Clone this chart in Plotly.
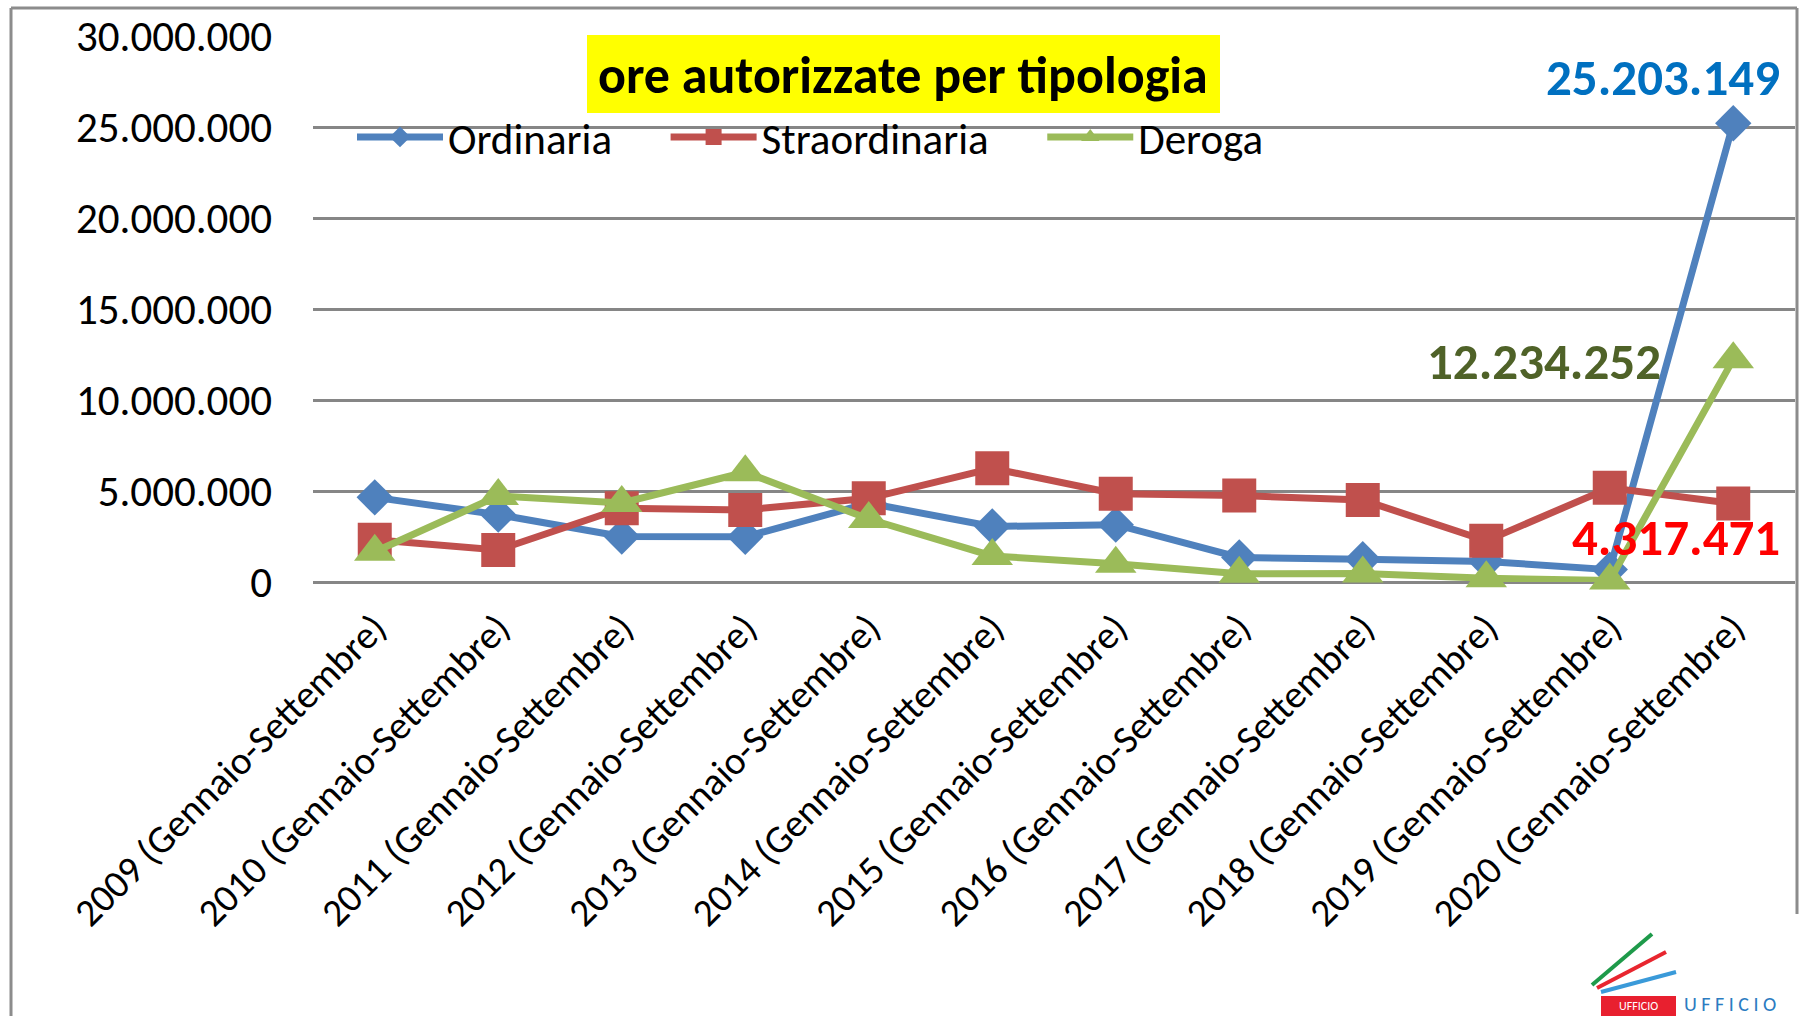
import plotly.graph_objects as go

categories = [f"{y} (Gennaio-Settembre)" for y in range(2009, 2021)]
ordinaria = [4650000, 3700000, 2500000, 2480000, 4330000, 3050000, 3150000, 1350000, 1250000, 1130000, 680000, 25203149]
straordinaria = [2320000, 1760000, 4050000, 3960000, 4600000, 6250000, 4850000, 4750000, 4500000, 2260000, 5180000, 4317471]
deroga = [1660000, 4730000, 4340000, 6030000, 3460000, 1430000, 1000000, 450000, 470000, 200000, 80000, 12234252]
series_names = ["Ordinaria", "Straordinaria", "Deroga"]
title_text = "ore autorizzate per tipologia"
y_ticks = [0, 5000000, 10000000, 15000000, 20000000, 25000000, 30000000]

W, H = 1804, 1016
L, R, T, B = 313, 1795, 36, 582  # plot area in pixels
pw, ph = R - L, B - T


def px(x):
    return (x - L) / pw


def py(y):
    return (B - y) / ph


def fmt(v):
    return f"{v:,}".replace(",", ".")


FONT = "Calibri, Carlito, Lato, sans-serif"
PAD = "\u00a0" * 5  # spacing after legend entries

fig = go.Figure()
styles = [
    (ordinaria, "#4F81BD", "diamond", 28),
    (straordinaria, "#C0504D", "square", 34),
    (deroga, "#9BBB59", "triangle-up", 36),
]
for i, (name, (vals, col, sym, sz)) in enumerate(zip(series_names, styles)):
    fig.add_trace(go.Scatter(
        x=categories, y=vals, name=name + (PAD if i < 2 else ""), mode="lines+markers",
        line=dict(color=col, width=7),
        marker=dict(symbol=sym, size=sz, color=col),
        cliponaxis=False,
    ))

shapes = [
    # outer frame
    dict(type="line", xref="paper", yref="paper", x0=px(11), x1=px(11), y0=py(8), y1=py(1016),
         line=dict(color="#8C8C8C", width=3)),
    dict(type="line", xref="paper", yref="paper", x0=px(11), x1=px(1797), y0=py(8), y1=py(8),
         line=dict(color="#8C8C8C", width=3)),
    dict(type="line", xref="paper", yref="paper", x0=px(1797), x1=px(1797), y0=py(8), y1=py(914),
         line=dict(color="#8C8C8C", width=3)),
    # title box
    dict(type="rect", xref="paper", yref="paper", x0=px(587), x1=px(1220), y0=py(35), y1=py(113),
         fillcolor="#FFFF00", line=dict(width=0), layer="above"),
    # logo stripes
    dict(type="line", xref="paper", yref="paper", x0=px(1592), y0=py(985), x1=px(1652), y1=py(934),
         line=dict(color="#1E9A4A", width=4)),
    dict(type="line", xref="paper", yref="paper", x0=px(1597), y0=py(988), x1=px(1666), y1=py(952),
         line=dict(color="#E8262F", width=4)),
    dict(type="line", xref="paper", yref="paper", x0=px(1601), y0=py(992), x1=px(1676), y1=py(972),
         line=dict(color="#3A9AD9", width=4)),
    dict(type="rect", xref="paper", yref="paper", x0=px(1601), x1=px(1676), y0=py(996), y1=py(1016),
         fillcolor="#E8202F", line=dict(width=0)),
]

annotations = [
    dict(text=f"<b>{title_text}</b>", xref="paper", yref="paper", x=px(903), y=py(75),
         xanchor="center", yanchor="middle", showarrow=False,
         font=dict(family=FONT, size=52, color="black")),
    dict(text=f"<b>{fmt(ordinaria[-1])}</b>", xref="paper", yref="paper", x=px(1782), y=py(78),
         xanchor="right", yanchor="middle", showarrow=False,
         font=dict(family=FONT, size=51, color="#0070C0")),
    dict(text=f"<b>{fmt(deroga[-1])}</b>", xref="paper", yref="paper", x=px(1663), y=py(361),
         xanchor="right", yanchor="middle", showarrow=False,
         font=dict(family=FONT, size=51, color="#4F6228")),
    dict(text=f"<b>{fmt(straordinaria[-1])}</b>", xref="paper", yref="paper", x=px(1782), y=py(537),
         xanchor="right", yanchor="middle", showarrow=False,
         font=dict(family=FONT, size=51, color="#FF0000")),
    dict(text="UFFICIO", xref="paper", yref="paper", x=px(1638), y=py(1006),
         xanchor="center", yanchor="middle", showarrow=False,
         font=dict(family=FONT, size=12, color="white")),
    dict(text="U F F I C I O", xref="paper", yref="paper", x=px(1682), y=py(1004),
         xanchor="left", yanchor="middle", showarrow=False,
         font=dict(family=FONT, size=20, color="#2C7CC1")),
]

fig.update_layout(
    width=W, height=H,
    margin=dict(l=L, r=W - R, t=T, b=H - B, pad=0),
    paper_bgcolor="white", plot_bgcolor="white",
    separators=",.",
    font=dict(family=FONT, size=36, color="black"),
    showlegend=True,
    legend=dict(orientation="h", x=px(352), y=py(137), xanchor="left", yanchor="middle",
                bgcolor="rgba(0,0,0,0)", itemwidth=86, font=dict(size=43),
                traceorder="normal"),
    shapes=shapes,
    annotations=annotations,
    xaxis=dict(type="category", range=[-0.5, 11.5], showgrid=False, showline=False,
               tickangle=-45, tickfont=dict(size=39), ticks="", ticklabelstandoff=14,
               fixedrange=True),
    yaxis=dict(range=[0, 30000000], tickvals=y_ticks, tickformat=",d",
               showgrid=True, gridcolor="#868686", gridwidth=3,
               zeroline=True, zerolinecolor="#868686", zerolinewidth=3,
               showline=False, ticks="", tickfont=dict(size=43), ticklabelstandoff=40,
               fixedrange=True),
)

fig.write_html("out.html", config={"displayModeBar": False},
               post_script="document.body.style.margin='0';")
